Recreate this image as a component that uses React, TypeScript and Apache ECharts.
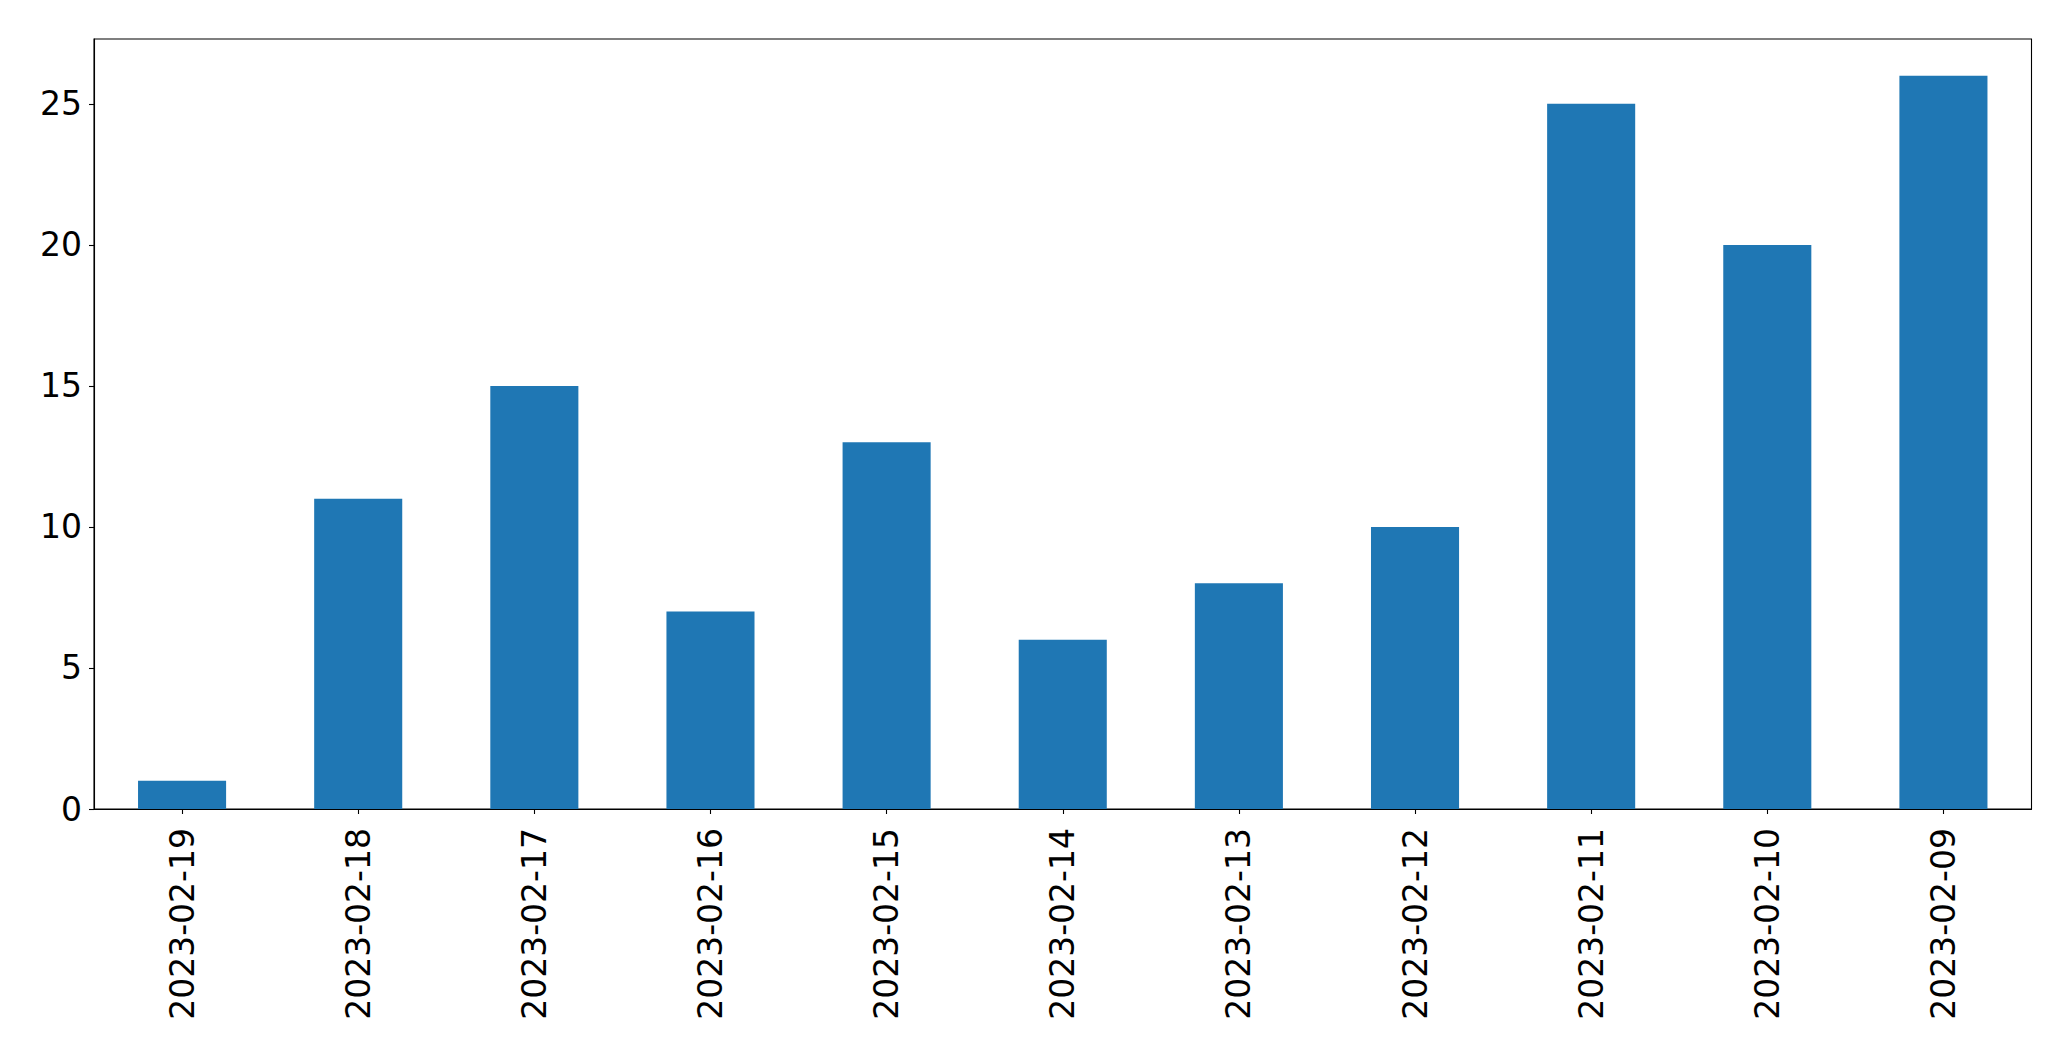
import React, { useEffect, useRef } from "react";
import * as echarts from "echarts";

const categories = [
  "2023-02-19",
  "2023-02-18",
  "2023-02-17",
  "2023-02-16",
  "2023-02-15",
  "2023-02-14",
  "2023-02-13",
  "2023-02-12",
  "2023-02-11",
  "2023-02-10",
  "2023-02-09",
];
const counts = [1, 11, 15, 7, 13, 6, 8, 10, 25, 20, 26];
const yTicks = [0, 5, 10, 15, 20, 25];
const yMax = 27.3;

export default function App() {
  const ref = useRef<HTMLDivElement>(null);
  useEffect(() => {
    if (!ref.current) return;
    const chart = echarts.init(ref.current, null, { renderer: "svg" });
    const font = "DejaVu Sans";
    chart.setOption({
      animation: false,
      backgroundColor: "#ffffff",
      grid: {
        left: 94,
        top: 39,
        right: 39.5,
        bottom: 252,
        show: true,
        borderColor: "#000000",
        borderWidth: 1.1,
        backgroundColor: "transparent",
      },
      xAxis: {
        type: "category",
        data: categories,
        boundaryGap: true,
        axisLine: { show: true, lineStyle: { color: "#000", width: 1.1 } },
        axisTick: {
          show: true,
          alignWithLabel: true,
          length: 5,
          lineStyle: { color: "#000", width: 1.1 },
        },
        axisLabel: {
          rotate: 90,
          margin: 19,
          color: "#000",
          fontFamily: font,
          fontSize: 33,
          interval: 0,
        },
        splitLine: { show: false },
      },
      yAxis: {
        type: "value",
        min: 0,
        max: yMax,
        axisLine: { show: true, lineStyle: { color: "#000", width: 1.1 } },
        axisTick: {
          show: true,
          length: 5,
          customValues: yTicks,
          lineStyle: { color: "#000", width: 1.1 },
        },
        axisLabel: {
          margin: 12,
          color: "#000",
          fontFamily: font,
          fontSize: 33,
          customValues: yTicks,
        },
        splitLine: { show: false },
      },
      series: [
        {
          type: "bar",
          data: counts,
          barWidth: "50%",
          itemStyle: { color: "#1f77b4" },
        },
      ],
    });
    return () => chart.dispose();
  }, []);
  return (
    <div
      ref={ref}
      style={{ position: "fixed", left: 0, top: 0, width: 2071, height: 1061 }}
    />
  );
}
